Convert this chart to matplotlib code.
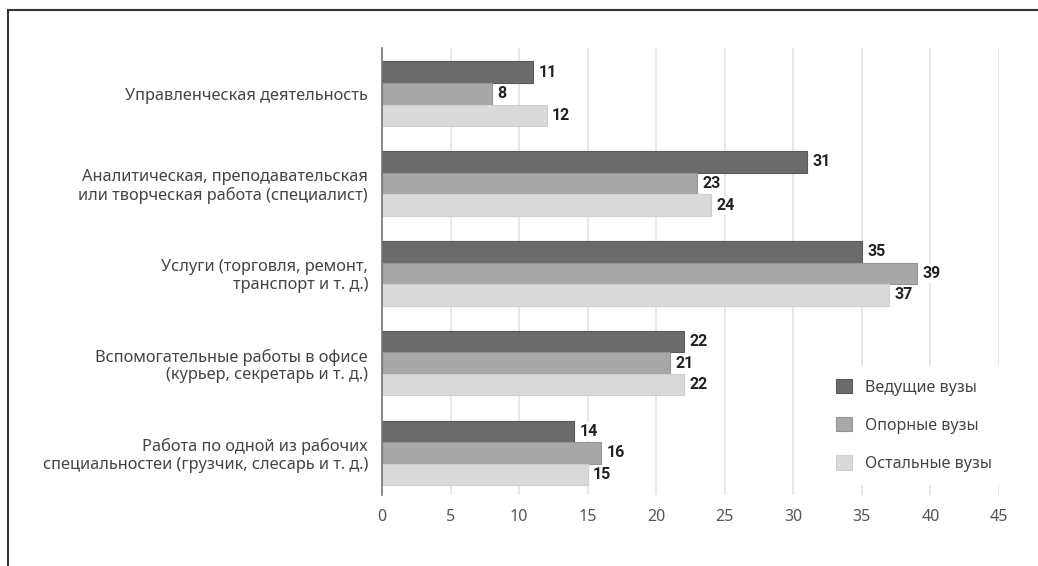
import numpy as np
import matplotlib
matplotlib.use('Agg')
import matplotlib.pyplot as plt
from matplotlib.patches import Rectangle

plt.rcParams['font.family'] = ['Noto Sans', 'DejaVu Sans']

categories = [
    'Управленческая деятельность',
    'Аналитическая, преподавательская\nили творческая работа (специалист)',
    'Услуги (торговля, ремонт,\nтранспорт и т. д.)',
    'Вспомогательные работы в офисе\n(курьер, секретарь и т. д.)',
    'Работа по одной из рабочих\nспециальностеи (грузчик, слесарь и т. д.)',
]
series_names = ['Ведущие вузы', 'Опорные вузы', 'Остальные вузы']
leading = [11, 31, 35, 22, 14]
support = [8, 23, 39, 21, 16]
others = [12, 24, 37, 22, 15]
colors = ['#6b6b6b', '#a8a8a8', '#dadada']
edges = ['#5a5a5a', '#959595', '#cfcfcf']

fig = plt.figure(figsize=(10.38, 5.66), dpi=100)
# outer frame
fig.patches.append(Rectangle((8 / 1038, -0.1), 1.2, 1 - 10 / 566 + 0.1,
                             transform=fig.transFigure, fill=False,
                             edgecolor='#333333', linewidth=1.5))

ax = fig.add_axes([382 / 1038, 1 - 495 / 566, 617 / 1038, 447 / 566])

y = np.arange(len(categories))
h = 0.24
for i, (vals, name) in enumerate(zip([leading, support, others], series_names)):
    pos = y + (i - 1) * h
    ax.barh(pos, vals, height=h, color=colors[i], edgecolor=edges[i],
            linewidth=0.8, label=name, zorder=3)
    for p, v in zip(pos, vals):
        ax.text(v + 0.4, p, str(v), va='center', ha='left', fontsize=11.5,
                fontweight='bold', family=['Roboto', 'DejaVu Sans'],
                color='#222222', zorder=4,
                bbox=dict(facecolor='white', edgecolor='none', pad=1.5))

ax.set_xlim(0, 45)
ax.set_ylim(4.47, -0.51)
ax.set_xticks(np.arange(0, 46, 5))
ax.set_yticks(y)
ax.set_yticklabels(categories, fontsize=11.8, color='#444444', linespacing=1.15)
ax.tick_params(axis='both', length=0)
ax.tick_params(axis='y', pad=10)
ax.tick_params(axis='x', pad=10, labelsize=11.5, labelcolor='#555555')
ax.xaxis.grid(True, color='#e4e4e4', linewidth=1.2, zorder=0)
ax.set_axisbelow(True)
for s in ['top', 'right', 'bottom']:
    ax.spines[s].set_visible(False)
ax.spines['left'].set_color('#777777')
ax.spines['left'].set_linewidth(1.2)
ax.spines['left'].set_zorder(5)

leg = ax.legend(loc='lower right', bbox_to_anchor=(1.022, 0.005), frameon=True,
                facecolor='white', edgecolor='none', framealpha=1,
                fontsize=11.5, labelspacing=1.35, handlelength=1.0,
                handleheight=1.0, handletextpad=0.8, borderpad=0.8)
for t in leg.get_texts():
    t.set_color('#444444')
leg.set_zorder(6)

plt.savefig('out.png', dpi=100)
